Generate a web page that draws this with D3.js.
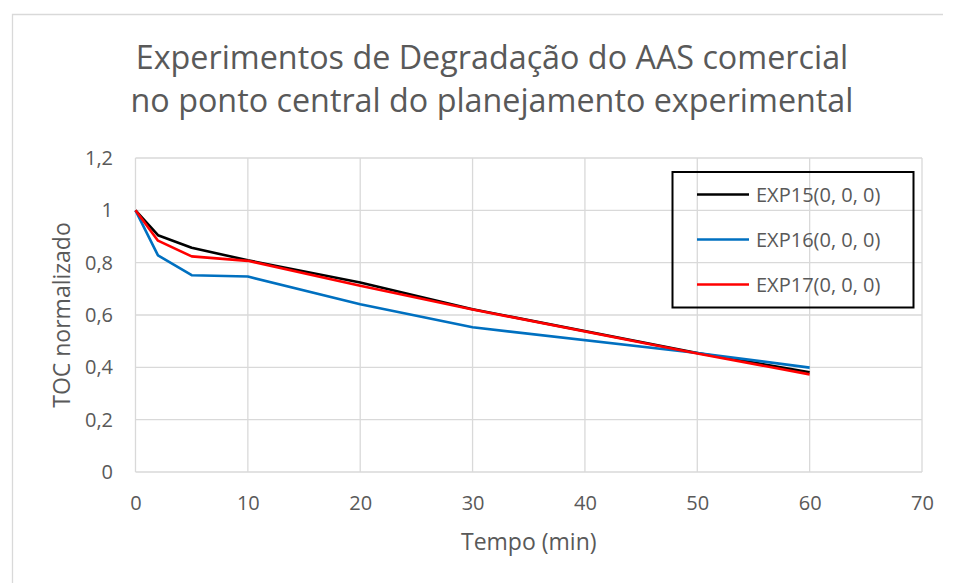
<!DOCTYPE html>
<html>
<head>
<meta charset="utf-8">
<script src="https://cdnjs.cloudflare.com/ajax/libs/d3/7.8.5/d3.min.js"></script>
<style>
	body { margin: 0; background: #fff; }
	text { font-family: 'Open Sans', sans-serif; fill: #595959; }
</style>
</head>
<body>
<div id="chart"></div>
<script>
	//данные графика
	var tempo = [0, 2, 5, 10, 20, 30, 50, 60];
	var exp15 = [1, 0.905, 0.857, 0.809, 0.724, 0.622, 0.455, 0.381];
	var exp16 = [1, 0.828, 0.752, 0.747, 0.641, 0.553, 0.455, 0.399];
	var exp17 = [1, 0.884, 0.824, 0.807, 0.712, 0.621, 0.453, 0.373];
	var seriesNames = ['EXP15(0, 0, 0)', 'EXP16(0, 0, 0)', 'EXP17(0, 0, 0)'];
	var seriesColors = ['#000000', '#0070c0', '#ff0000'];
	var xTicks = [0, 10, 20, 30, 40, 50, 60, 70];
	var yTicks = [0, 0.2, 0.4, 0.6, 0.8, 1, 1.2];
	var titleLines = ['Experimentos de Degradação do AAS comercial', 'no ponto central do planejamento experimental'];

	var svgWidth = 956;
	var svgHeight = 583;

	//область построения
	var plot = {left: 135.5, right: 922, top: 158, bottom: 472};

	var x = d3.scaleLinear().domain([0, 70]).range([plot.left, plot.right]);
	var y = d3.scaleLinear().domain([0, 1.2]).range([plot.bottom, plot.top]);

	var svg = d3.select('#chart')
		.append('svg')
		.attr('width', svgWidth)
		.attr('height', svgHeight)
	;

	//рамка диаграммы (видны только левая и верхняя стороны)
	svg.append('path')
		.attr('d', 'M12.5,' + svgHeight + 'V14.5H943')
		.attr('fill', 'none')
		.attr('stroke', '#d9d9d9')
		.attr('stroke-width', 1.3)
	;

	//заголовок
	svg.append('g')
		.selectAll('text')
		.data(titleLines)
		.enter()
		.append('text')
		.attr('x', 492)
		.attr('y', function(d, i) { return 69 + i * 43; })
		.attr('text-anchor', 'middle')
		.style('font-size', '32.3px')
		.text(function(d) { return d; })
	;

	//сетка
	var grid = svg.append('g').attr('class', 'grid');

	grid.selectAll('.hline')
		.data(yTicks)
		.enter()
		.append('line')
		.attr('x1', plot.left)
		.attr('x2', plot.right)
		.attr('y1', function(d) { return y(d); })
		.attr('y2', function(d) { return y(d); })
		.attr('stroke', '#d9d9d9')
		.attr('stroke-width', 1.3)
	;

	grid.selectAll('.vline')
		.data(xTicks)
		.enter()
		.append('line')
		.attr('y1', plot.top)
		.attr('y2', plot.bottom)
		.attr('x1', function(d) { return x(d); })
		.attr('x2', function(d) { return x(d); })
		.attr('stroke', '#d9d9d9')
		.attr('stroke-width', 1.3)
	;

	//подписи осей
	var fmt = function(d) { return String(d).replace('.', ','); };

	var xAxis = svg.append('g')
		.attr('transform', 'translate(0,' + plot.bottom + ')')
		.call(d3.axisBottom(x).tickValues(xTicks).tickSize(0).tickPadding(24).tickFormat(fmt))
	;
	xAxis.select('.domain').remove();
	xAxis.selectAll('text').style('font-size', '20px').attr('fill', '#595959');

	var yAxis = svg.append('g')
		.attr('transform', 'translate(113,0)')
		.call(d3.axisLeft(y).tickValues(yTicks).tickSize(0).tickPadding(0).tickFormat(fmt))
	;
	yAxis.select('.domain').remove();
	yAxis.selectAll('text').style('font-size', '20px').attr('fill', '#595959');

	svg.append('text')
		.attr('x', (plot.left + plot.right) / 2)
		.attr('y', 550)
		.attr('text-anchor', 'middle')
		.style('font-size', '23px')
		.text('Tempo (min)')
	;

	svg.append('text')
		.attr('transform', 'translate(62,315) rotate(-90)')
		.attr('text-anchor', 'middle')
		.attr('dy', '0.35em')
		.style('font-size', '23px')
		.text('TOC normalizado')
	;

	//линии серий
	var series = [exp15, exp16, exp17];
	var line = d3.line()
		.x(function(d, i) { return x(tempo[i]); })
		.y(function(d) { return y(d); })
	;

	svg.append('g')
		.selectAll('path')
		.data(series)
		.enter()
		.append('path')
		.attr('d', line)
		.attr('fill', 'none')
		.attr('stroke', function(d, i) { return seriesColors[i]; })
		.attr('stroke-width', 2.6)
		.attr('stroke-linejoin', 'round')
	;

	//легенда
	var legend = svg.append('g');

	legend.append('rect')
		.attr('x', 672.5)
		.attr('y', 172)
		.attr('width', 241)
		.attr('height', 135.5)
		.attr('fill', 'none')
		.attr('stroke', '#000')
		.attr('stroke-width', 2)
	;

	var item = legend.selectAll('.item')
		.data(seriesNames)
		.enter()
		.append('g')
		.attr('transform', function(d, i) { return 'translate(0,' + (194.5 + i * 45) + ')'; })
	;

	item.append('line')
		.attr('x1', 697)
		.attr('x2', 749)
		.attr('stroke', function(d, i) { return seriesColors[i]; })
		.attr('stroke-width', 2.6)
	;

	item.append('text')
		.attr('x', 756)
		.attr('dy', '0.35em')
		.style('font-size', '20px')
		.text(function(d) { return d; })
	;
</script>
</body>
</html>
